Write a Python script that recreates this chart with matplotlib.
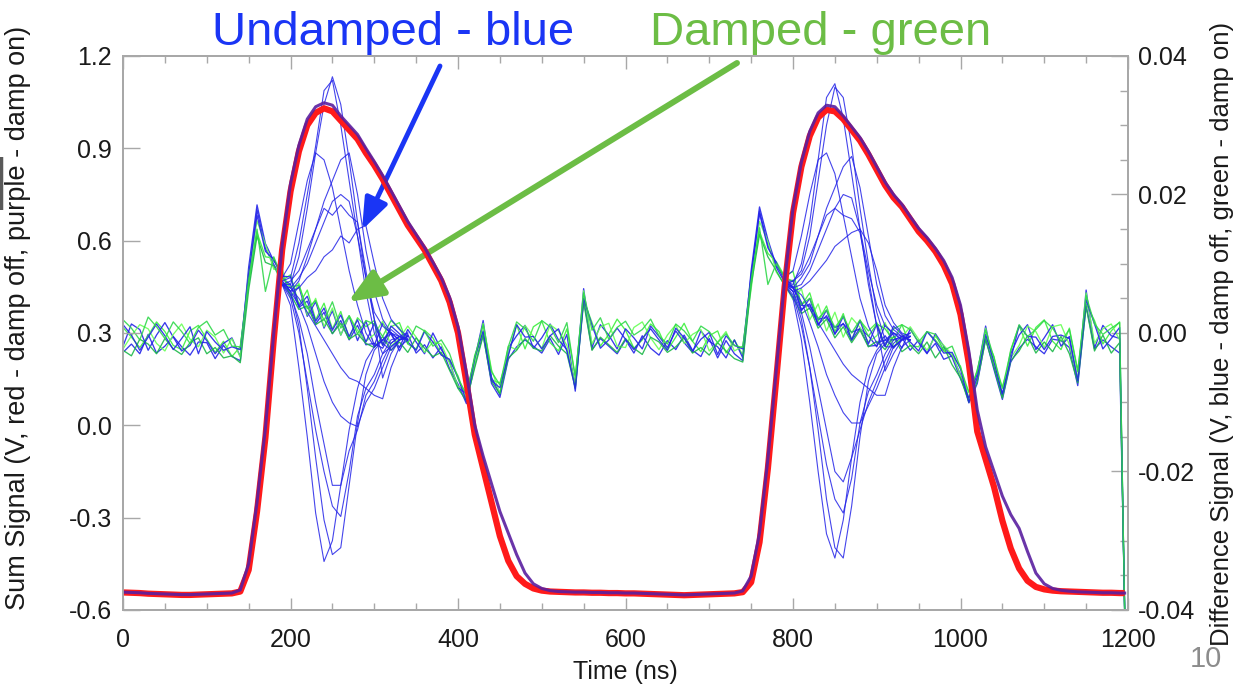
import numpy as np
import matplotlib
matplotlib.use("Agg")
import matplotlib.pyplot as plt
from matplotlib.ticker import MultipleLocator, FormatStrFormatter
from matplotlib.patches import FancyArrowPatch

plt.rcParams['font.family'] = ['Liberation Sans', 'DejaVu Sans']

# sample times in ns, 10 ns apart, last one where the record ends
time_ns = list(range(0, 1200, 10)) + [1196]

# sum signal (V): red = damp off, purple = damp on
sum_red = [
    -0.543, -0.544, -0.545, -0.547, -0.548, -0.549, -0.550, -0.551, -0.551, -0.550,
    -0.549, -0.548, -0.547, -0.546, -0.540, -0.47, -0.28, -0.04, 0.28, 0.57,
    0.76, 0.89, 0.975, 1.015, 1.03, 1.02, 0.99, 0.96, 0.93, 0.885,
    0.845, 0.80, 0.75, 0.70, 0.65, 0.61, 0.57, 0.52, 0.47, 0.40,
    0.30, 0.14, -0.03, -0.14, -0.25, -0.36, -0.44, -0.49, -0.515, -0.53,
    -0.537, -0.540, -0.541, -0.542, -0.543, -0.543, -0.544, -0.544, -0.545, -0.545,
    -0.546, -0.546, -0.547, -0.548, -0.549, -0.550, -0.551, -0.552, -0.551, -0.550,
    -0.549, -0.548, -0.547, -0.546, -0.542, -0.51, -0.38, -0.14, 0.15, 0.45,
    0.69, 0.84, 0.94, 1.0, 1.025, 1.02, 0.995, 0.96, 0.925, 0.88,
    0.83, 0.78, 0.74, 0.71, 0.67, 0.63, 0.60, 0.565, 0.52, 0.46,
    0.36, 0.20, -0.02, -0.11, -0.20, -0.31, -0.40, -0.465, -0.505, -0.525,
    -0.533, -0.537, -0.539, -0.540, -0.541, -0.542, -0.543, -0.544, -0.544, -0.545,
    -0.545,
]
sum_purple = [
    -0.542, -0.543, -0.544, -0.546, -0.547, -0.548, -0.549, -0.550, -0.550, -0.549,
    -0.548, -0.547, -0.546, -0.545, -0.535, -0.45, -0.25, -0.01, 0.30, 0.585,
    0.785, 0.91, 0.995, 1.035, 1.048, 1.04, 1.005, 0.975, 0.945, 0.90,
    0.857, 0.812, 0.762, 0.712, 0.662, 0.62, 0.578, 0.53, 0.48, 0.415,
    0.32, 0.17, 0.0, -0.10, -0.19, -0.28, -0.35, -0.42, -0.48, -0.515,
    -0.53, -0.537, -0.540, -0.541, -0.542, -0.542, -0.543, -0.543, -0.544, -0.544,
    -0.545, -0.545, -0.546, -0.547, -0.548, -0.549, -0.550, -0.551, -0.550, -0.549,
    -0.548, -0.547, -0.546, -0.545, -0.538, -0.49, -0.35, -0.11, 0.18, 0.47,
    0.705, 0.855, 0.955, 1.015, 1.04, 1.035, 1.005, 0.97, 0.935, 0.89,
    0.84, 0.79, 0.75, 0.718, 0.678, 0.64, 0.61, 0.575, 0.535, 0.48,
    0.39, 0.24, 0.05, -0.07, -0.15, -0.23, -0.29, -0.335, -0.41, -0.48,
    -0.515, -0.530, -0.536, -0.539, -0.541, -0.542, -0.543, -0.544, -0.544, -0.545,
    -0.545,
]

# difference signal, damp on (mV)
green_1 = [
    0.8, -0.6, -2.1, -0.4, 1.6, 0.2, -1.8, -2.4, 0.3, 1.1,
    -0.9, -2.8, -1.2, -3.4, -2.0, 7.0, 14.5, 11.0, 10.8, 7.6,
    8.4, 4.1, 6.2, 1.9, 4.3, 0.6, 3.1, -0.8, 2.2, 0.9,
    1.8, -1.7, 0.9, 1.5, -1.6, -2.3, 0.4, -0.7, -3.1, -3.9,
    -6.2, -9.6, -3.2, 0.1, -6.8, -7.2, -3.1, 1.2, -2.3, 0.9,
    1.7, -1.4, -2.6, 0.6, -6.2, 4.8, 1.5, -1.9, -0.2, 2.0,
    0.4, -2.2, -1.0, 1.3, 0.2, -2.5, -0.6, 1.4, -1.2, -2.7,
    -0.4, 0.3, -2.9, -1.0, -3.2, 8.0, 14.6, 11.5, 10.3, 8.2,
    8.9, 4.0, 5.8, 1.7, 3.9, 0.2, 2.8, -1.0, 1.8, 0.3,
    1.5, -1.9, 0.6, 1.2, -1.8, -2.0, 0.2, -1.0, -2.6, -3.3,
    -4.8, -9.5, -5.3, -0.6, -3.4, -9.1, -2.4, 1.0, -1.9, 0.8,
    1.9, -1.2, -2.4, 0.7, -5.4, 4.2, 1.8, -1.6, 0.3, 1.6,
    -40.0,
]
green_2 = [
    -2.3, -0.4, 1.2, 0.6, -1.5, -2.6, -0.2, 1.3, -0.9, -2.0,
    0.4, -0.6, -2.9, -0.8, -3.5, 8.5, 16.2, 12.8, 9.2, 9.3,
    5.1, 7.2, 2.6, 5.0, 0.9, 3.6, -0.3, 2.5, 0.4, -1.2,
    -0.2, 1.7, -1.9, -0.8, 1.0, -0.6, -2.8, -1.3, -1.6, -4.4,
    -7.7, -8.4, -4.7, 1.4, -5.3, -8.7, -1.9, -2.4, 1.1, -0.5,
    -2.2, 1.2, 0.3, -1.8, -7.6, 6.1, -1.6, 0.9, 1.4, -1.9,
    -2.1, 0.8, 1.6, -0.7, -2.4, -0.3, 1.2, -1.5, -0.2, 0.5,
    -2.6, -1.3, 0.2, -2.6, -1.9, 6.3, 16.1, 13.2, 8.8, 7.0,
    4.8, 6.4, 1.9, 4.2, 0.3, 3.0, -0.6, 2.2, 0.8, -1.3,
    -0.4, 1.5, -2.0, -0.6, 0.9, -0.9, -2.5, -0.5, -1.8, -3.1,
    -6.2, -8.4, -6.7, 0.7, -4.6, -7.8, -3.6, -1.8, 1.0, 0.2,
    -2.1, 0.9, 1.2, -1.7, -6.6, 5.8, -1.5, 0.6, 1.3, -1.0,
    -40.0,
]
green_3 = [
    1.9, 0.7, -1.0, 2.3, 0.9, -0.8, 1.6, 0.2, -1.5, 0.8,
    1.7, -0.3, 0.5, -1.9, -2.0, 7.6, 15.0, 6.0, 11.0, 8.0,
    6.6, 6.9, 3.5, 4.7, 1.8, 4.5, 0.7, 2.5, -0.1, 1.8,
    1.3, -0.5, 1.8, 0.7, -1.5, 1.0, 0.3, -1.9, -1.0, -3.0,
    -6.6, -8.8, -3.5, 1.2, -5.6, -7.5, -2.0, 1.6, 0.6, -1.2,
    1.8, 0.9, -1.4, 1.5, -6.5, 5.8, 0.4, 2.2, -0.9, 0.8,
    1.7, -0.3, 0.5, 2.0, -0.4, -1.6, 1.3, 0.3, -1.2, 1.0,
    0.2, -1.4, -0.1, -1.8, -2.1, 7.6, 15.2, 7.0, 10.0, 8.0,
    7.5, 4.1, 5.0, 2.1, 3.3, 0.8, 2.4, 0.0, 1.9, -0.5,
    1.3, 0.6, -1.1, 1.2, 0.5, -1.3, 0.2, -0.2, -2.5, -1.9,
    -5.0, -8.6, -5.5, 0.4, -3.6, -8.0, -2.6, 1.2, -0.5, 0.5,
    1.8, 0.7, -1.2, 0.5, -5.6, 5.4, 1.3, -0.2, 0.7, 1.5,
    -40.0,
]
green_4 = [
    -2.5, -3.3, -0.9, -1.6, -3.0, -0.8, -2.3, -3.1, -1.4, -0.7,
    -3.0, -2.1, -3.6, -3.3, -4.3, 6.2, 14.0, 10.2, 9.7, 7.2,
    5.6, 3.4, 3.9, 1.2, 2.0, -0.1, 1.4, -0.9, -0.1, -1.5,
    -2.1, -0.5, -2.5, -1.3, -2.8, -0.7, -2.2, -3.4, -2.8, -5.4,
    -8.0, -9.8, -5.0, -0.4, -7.0, -8.8, -3.6, -2.5, -0.8, -2.2,
    -2.6, -0.4, -1.9, -3.0, -7.9, 4.4, -2.5, -0.6, -1.7, -2.8,
    -0.8, -2.2, -3.1, -0.6, -1.3, -2.8, -2.0, -0.7, -2.9, -2.1,
    -3.2, -1.4, -2.6, -3.7, -4.2, 6.9, 14.2, 11.0, 9.0, 6.8,
    5.2, 2.8, 3.6, 0.7, 2.0, -0.7, 0.9, -1.4, 0.4, -2.0,
    -1.2, -2.4, -0.5, -2.7, -1.8, -3.0, -1.3, -3.6, -2.0, -4.6,
    -6.5, -10.0, -7.0, -1.0, -5.0, -9.4, -4.0, -2.6, -0.4, -2.9,
    -1.3, -2.7, -0.5, -3.0, -7.2, 3.8, -2.6, -0.3, -2.9, -1.4,
    -40.0,
]

# difference signal, damp off (mV)
blue_1 = [
    -1.9, 1.3, 0.5, -2.5, -0.3, 1.5, -0.6, -2.6, -1.8, 0.4,
    -1.1, -3.0, -1.5, -0.7, -3.4, 9.5, 18.5, 12.9, 10.4, 8.8,
    5.2, 6.7, 2.4, 4.5, 0.7, 3.2, -0.3, 2.4, -1.1, 1.7,
    -1.8, 1.4, -0.2, -2.1, 0.5, -1.3, -3.0, 0.0, -2.4, -4.2,
    -7.9, -8.7, -3.8, 1.8, -6.4, -8.9, -2.2, -0.4, 1.1, -2.2,
    -0.7, 1.3, -1.0, -2.4, -7.3, 6.4, -2.1, 1.2, -0.3, -2.3,
    0.6, -0.7, -2.3, 1.0, -0.5, -2.1, 0.3, -1.4, -2.8, 0.3,
    -1.2, -2.0, -3.6, -1.0, -3.6, 9.0, 18.2, 13.5, 9.7, 8.1,
    6.6, 4.0, 3.9, 2.0, 2.2, 0.8, 1.3, 0.1, 0.6, -0.4,
    -2.0, 1.2, -0.3, -2.2, 0.6, -1.4, -3.0, -0.1, -1.9, -3.5,
    -6.6, -9.4, -5.9, 1.0, -4.9, -9.0, -3.0, -0.3, 1.2, -2.4,
    -0.7, 1.2, -1.9, -0.5, -7.0, 6.2, -2.2, 1.1, -0.4, -0.8,
    -40.0,
]
blue_2 = [
    1.2, -0.3, -2.5, -0.6, 1.3, -0.4, -2.4, -0.8, 0.9, -3.0,
    0.2, -1.3, -2.5, -2.0, -2.4, 8.6, 17.0, 11.8, 10.6, 8.2,
    8.1, 3.9, 5.3, 1.7, 3.6, 0.4, 2.6, -0.5, 1.9, -1.3,
    1.4, -1.8, 1.0, -0.1, -1.3, -2.5, 0.2, -1.3, -3.2, -3.8,
    -6.5, -9.9, -3.6, 0.3, -6.9, -7.9, -3.3, 1.2, -0.6, -0.5,
    -2.3, -0.4, 0.6, -2.6, -8.0, 5.0, 1.1, -2.2, -1.0, 0.7,
    -0.9, -2.4, -0.8, 0.6, -1.0, -2.5, 0.7, -0.7, -2.6, -0.9,
    0.1, -3.1, -0.4, -1.8, -2.3, 8.4, 17.3, 12.3, 10.2, 7.4,
    7.6, 3.2, 5.0, 1.1, 3.3, -0.2, 2.4, -1.0, 1.8, -1.6,
    1.3, -1.9, 1.0, -0.2, -1.3, -2.6, 0.2, -1.2, -2.9, -2.8,
    -5.2, -10.0, -6.4, -0.2, -4.2, -8.8, -3.8, 1.1, -0.5, -0.6,
    -2.4, -0.5, -0.3, -0.8, -6.9, 4.8, 1.3, -2.3, -0.8, 0.8,
    -40.0,
]
blue_3 = [
    -2.8, -1.6, -3.0, -0.2, -2.9, -1.9, -0.5, -2.0, -3.2, -1.3,
    -1.4, -3.7, -1.8, -3.4, -4.0, 7.8, 17.8, 12.2, 9.9, 7.9,
    7.0, 3.7, 4.6, 1.3, 3.0, -0.1, 1.8, -1.0, 1.1, -1.7,
    -1.5, -2.2, 0.1, -2.6, -0.2, -2.9, -1.7, -3.6, -2.0, -5.2,
    -7.4, -10.2, -4.6, -0.2, -7.3, -9.3, -3.8, -2.0, -1.0, -1.9,
    -2.9, -0.8, -3.1, -0.2, -8.4, 4.9, -2.4, -0.8, -1.9, -3.0,
    -1.0, -2.9, -0.4, -2.2, -3.2, -1.1, -2.4, -0.3, -2.5, -3.4,
    -0.8, -3.6, -1.1, -3.0, -4.0, 7.8, 17.6, 12.7, 9.5, 7.3,
    6.7, 3.4, 4.2, 1.2, 2.5, -0.1, 1.4, -1.1, 0.7, -1.9,
    -1.8, -0.4, -2.2, -0.7, -2.5, -1.0, -2.9, -1.5, -3.8, -3.3,
    -6.0, -10.1, -7.3, -0.8, -5.3, -9.6, -4.2, -2.2, -0.9, -2.0,
    -3.0, -0.9, -1.1, -2.1, -7.6, 4.0, -2.3, -1.0, -2.0, -2.9,
    -40.0,
]

# undamped oscillation bursts after each bunch passage (mV)
burst_time_1 = list(range(190, 341, 10))
burst_time_2 = list(range(790, 941, 10))
bursts_1 = [
    [7.5, 8.0, 13, 20, 27, 35, 36.5, 30, 22, 14, 6, 0, -3, -2, -1, -0.5],
    [7, 7, 11, 18, 26, 33, 37, 33, 25, 16, 8, 2, -1.5, -2.5, -1, -0.8],
    [8, 10, 16, 22, 26, 25, 21, 15, 9, 4, 0, -2, -1, 0.5, -0.5, -1],
    [7, 6, 7.5, 11, 15, 19, 22, 25, 26, 20, 12, 6, 2, 0, -0.5, -1],
    [7, 6.5, 8, 10, 13, 16, 19, 20, 19, 14, 8, 3, 1, 0, -1, -0.5],
    [7.5, 6, 6.5, 8, 9, 11, 12, 14, 13, 15, 15.5, 10, 5, 2, 0.5, -0.5],
    [7, 7.5, 9, 12, 15, 18, 17, 18.5, 17, 16, 9, 2, -6.5, -3, -1, 0],
    [7, 4, -5, -15, -26, -33, -30, -22, -14, -8, -4, -2, -1, -1.5, -0.5, -1],
    [7.5, 6, 1, -8, -18, -27, -32, -31, -22, -13, -6, -2.5, -1, 0, -1, -0.5],
    [7, 5, 0, -7, -14, -20, -25, -26.5, -20, -12, -8, -6, -3, -1, -0.5, -1],
    [7, 5.5, 2, -3, -10, -16, -22, -22, -17, -14, -9, -7, -4, -1.5, -0.5, 0],
    [7.5, 6, 4, 1, -3, -7, -10, -12, -13, -13.5, -10, -8, -5, -2, -1, -0.5],
    [7, 6.5, 5, 3, 1, -1, -3, -5, -6.5, -7, -8, -9, -9.5, -5, -2, -1],
]
bursts_2 = [
    [7.5, 7, 10, 16, 25, 34, 36, 31, 23, 15, 7, 1, -2, -2, -1, -0.5],
    [7, 7.5, 9, 14, 22, 30, 35.5, 34, 27, 18, 10, 3, -1, -2, -1, -0.5],
    [8, 9, 14, 20, 25, 26, 23, 17, 11, 5, 1, -1.5, -1, 0, -0.5, -1],
    [7, 6.5, 8, 10, 14, 18, 21, 24, 25.5, 21, 14, 7, 2.5, 0.5, -0.5, -1],
    [7.5, 6.5, 7, 9, 12, 15, 18, 20, 19.5, 15, 9, 4, 1, 0, -1, -0.5],
    [7, 6, 6.5, 7.5, 9, 10.5, 12.5, 13.5, 14.5, 15, 13, 9, 4, 1.5, 0, -0.5],
    [7, 7.5, 8.5, 11, 14, 17, 18, 17, 16.5, 14.5, 8, 1, -5.5, -3, -1, 0],
    [7, 5, -1, -10, -20, -29, -32.5, -27, -18, -10, -5, -2.5, -1, -1, -0.5, -1],
    [7.5, 6, 2, -5, -14, -24, -31, -32.5, -25, -15, -7, -3, -1.5, 0, -1, -0.5],
    [7, 5.5, 1, -5, -12, -19, -24, -26, -21, -13, -8.5, -6, -3, -1, -0.5, -1],
    [7, 6, 3, -2, -8, -14, -20, -21.5, -18, -14, -10, -7, -4, -1.5, -0.5, 0],
    [7.5, 6.5, 4.5, 1.5, -2, -6, -9, -11.5, -13, -13, -10.5, -8, -5, -2, -1, -0.5],
    [7, 6.5, 5.5, 3.5, 1.5, -0.5, -2.5, -4.5, -6, -7, -8, -9, -9, -5, -2, -1],
]

BLUE = '#2424e8'
GREENS = ['#3cf03c', '#66ff55', '#1cb848', '#30d84a']
TICK_GRAY = '#a8a8a8'
TEXT = '#1a1a1a'

fig = plt.figure(figsize=(12.34, 6.86), dpi=100)
ax = fig.add_axes([0.0997, 0.1108, 0.8144, 0.8076])
ax2 = ax.twinx()

# difference traces on the right-hand axis
t = np.array(time_ns)
order = [(blue_3, BLUE), (green_1, GREENS[0]), (blue_1, BLUE), (green_2, GREENS[1]),
         (green_4, GREENS[2]), (blue_2, BLUE), (green_3, GREENS[3])]
for trace, col in order:
    ax2.plot(t, np.array(trace) / 1000.0, color=col, lw=0.95, alpha=0.9)
for seg in bursts_1:
    ax2.plot(burst_time_1, np.array(seg) / 1000.0, color=BLUE, lw=0.8, alpha=0.85)
for seg in bursts_2:
    ax2.plot(burst_time_2, np.array(seg) / 1000.0, color=BLUE, lw=0.8, alpha=0.85)

# sum signals drawn above the difference traces
ax.set_zorder(ax2.get_zorder() + 1)
ax.patch.set_visible(False)
ax.plot(t, sum_red, color='#ff1a1a', lw=4.5, solid_capstyle='butt')
ax.plot(t, sum_purple, color='#5a1fa0', lw=2.2, alpha=0.9)

ax.set_xlim(0, 1200)
ax.set_ylim(-0.6, 1.2)
ax2.set_ylim(-0.04, 0.04)

ax.xaxis.set_major_locator(MultipleLocator(200))
ax.xaxis.set_minor_locator(MultipleLocator(50))
ax.yaxis.set_major_locator(MultipleLocator(0.3))
ax.yaxis.set_major_formatter(FormatStrFormatter('%.1f'))
ax2.yaxis.set_major_locator(MultipleLocator(0.02))
ax2.yaxis.set_minor_locator(MultipleLocator(0.005))
ax2.yaxis.set_major_formatter(FormatStrFormatter('%.2f'))

for a in (ax, ax2):
    for sp in a.spines.values():
        sp.set_color(TICK_GRAY)
        sp.set_linewidth(1.3)

ax.tick_params(axis='x', which='major', direction='in', length=9, width=1,
               color=TICK_GRAY, top=True, labelsize=18, pad=13, labelcolor=TEXT)
ax.tick_params(axis='x', which='minor', direction='in', length=5, width=1,
               color=TICK_GRAY, top=True)
ax.tick_params(axis='y', which='major', direction='in', length=12, width=1,
               color=TICK_GRAY, labelsize=18, pad=8, labelcolor=TEXT)
ax2.tick_params(axis='y', which='major', direction='in', length=12, width=1,
                color=TICK_GRAY, labelsize=18, pad=7, labelcolor=TEXT)
ax2.tick_params(axis='y', which='minor', direction='in', length=6, width=1,
                color=TICK_GRAY)

fig.text(0.0146, 0.536, 'Sum Signal (V, red - damp off, purple - damp on)',
         rotation=90, ha='center', va='center', fontsize=19.5, color=TEXT)
fig.text(0.990, 0.513, 'Difference Signal (V, blue - damp off, green - damp on)',
         rotation=90, ha='center', va='center', fontsize=18.5, color=TEXT)
fig.text(0.5065, 0.0204, 'Time (ns)', ha='center', va='center',
         fontsize=18, color=TEXT)

# callouts
fig.text(212 / 1234, 1 - 45 / 686, 'Undamped - blue', fontsize=34,
         color='#1a35f5', ha='left', va='baseline')
fig.text(650 / 1234, 1 - 45 / 686, 'Damped - green', fontsize=34,
         color='#6cbd45', ha='left', va='baseline')
fig.add_artist(FancyArrowPatch(
    (440 / 1234, 1 - 66 / 686), (362 / 1234, 1 - 230 / 686),
    transform=fig.transFigure, arrowstyle='-|>,head_length=0.95,head_width=0.36',
    mutation_scale=20, lw=3.5, color='#1a35f5', shrinkA=0, shrinkB=0))
fig.add_artist(FancyArrowPatch(
    (737 / 1234, 1 - 63 / 686), (348 / 1234, 1 - 302 / 686),
    transform=fig.transFigure, arrowstyle='-|>,head_length=1.05,head_width=0.43',
    mutation_scale=20, lw=4.3, color='#6cbd45', shrinkA=0, shrinkB=0))

fig.text(8 / 1234, 1 - 210 / 686, 'd', fontsize=52, fontweight='bold',
         color='#595959', ha='right', va='baseline')
fig.text(1206 / 1234, 1 - 667 / 686, '10', fontsize=21, color='#8c8c8c',
         ha='center', va='baseline')

fig.savefig('out.png', dpi=100)
